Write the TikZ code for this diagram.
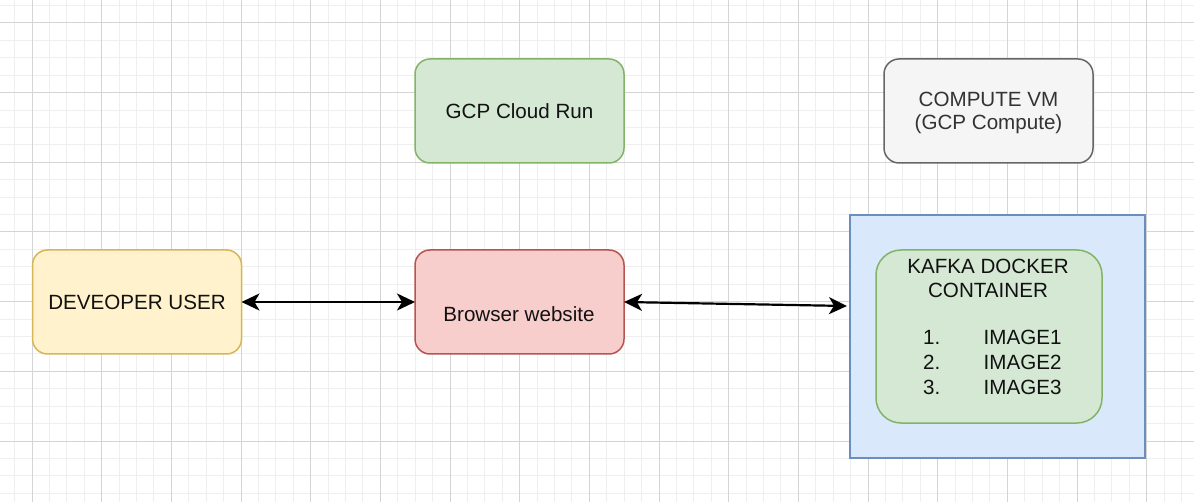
\documentclass[tikz,border=0pt]{standalone}
\usepackage{fontspec}
\setmainfont{Liberation Sans}
\usetikzlibrary{arrows.meta}
\definecolor{gridminor}{HTML}{EFEFEF}
\definecolor{gridmajor}{HTML}{D4D4D4}
\definecolor{yfill}{HTML}{FFF2CC}\definecolor{ydraw}{HTML}{D6B656}
\definecolor{gfill}{HTML}{D5E8D4}\definecolor{gdraw}{HTML}{82B366}
\definecolor{rfill}{HTML}{F8CECC}\definecolor{rdraw}{HTML}{B85450}
\definecolor{sfill}{HTML}{F5F5F5}\definecolor{sdraw}{HTML}{666666}
\definecolor{bfill}{HTML}{DAE8FC}\definecolor{bdraw}{HTML}{6C8EBF}
\definecolor{txt}{HTML}{111111}\definecolor{txtgray}{HTML}{333333}
\tikzset{
  box/.style={draw, line width=1.5pt, rounded corners=15pt, minimum width=209pt, minimum height=104pt, inner sep=0pt, outer sep=0pt},
  lbl/.style={font=\fontsize{20.6}{25}\selectfont, text=txt, inner sep=0pt, align=center},
  conn/.style={line width=2.2pt, {Stealth[length=18pt,width=17pt,inset=5pt]}-{Stealth[length=18pt,width=17pt,inset=5pt]}},
}
\begin{document}
\begin{tikzpicture}[x=1pt,y=-1pt]
\useasboundingbox (0,0) rectangle (1194,502);
\fill[white] (0,0) rectangle (1194,502);
% grid
\foreach \i in {-2,...,67}{
  \pgfmathsetmacro{\xx}{32+17.4167*\i}
  \draw[gridminor, line width=1pt] (\xx,0) -- (\xx,502);
}
\foreach \i in {-2,...,27}{
  \pgfmathsetmacro{\yy}{23+17.4167*\i}
  \draw[gridminor, line width=1pt] (0,\yy) -- (1194,\yy);
}
\foreach \i in {0,...,16}{
  \pgfmathsetmacro{\xx}{32+69.667*\i}
  \draw[gridmajor, line width=1pt] (\xx,0) -- (\xx,502);
}
\foreach \i in {0,...,7}{
  \pgfmathsetmacro{\yy}{23+69.667*\i}
  \draw[gridmajor, line width=1pt] (0,\yy) -- (1194,\yy);
}
% boxes
\node[box, fill=yfill, draw=ydraw] (dev) at (137,302) {};
\node[lbl] (devt) at (137,302) {DEVEOPER USER};
\node[box, fill=gfill, draw=gdraw] (run) at (519.5,111) {};
\node[lbl] (runt) at (519.5,111) {GCP Cloud Run};
\node[box, fill=rfill, draw=rdraw] (web) at (519.5,302) {};
\node[lbl] (webt) at (519,314) {Browser website};
\node[box, fill=sfill, draw=sdraw] (vm) at (988.5,111) {};
\node[lbl, text=txtgray] (vmt1) at (988.5,99) {COMPUTE VM};
\node[lbl, text=txtgray] (vmt2) at (988.5,124) {(GCP Compute)};
\node[draw=bdraw, fill=bfill, line width=1.5pt, minimum width=295pt, minimum height=243pt, inner sep=0pt, outer sep=0pt] (blue) at (997.5,336.5) {};
\node[draw=gdraw, fill=gfill, line width=1.5pt, rounded corners=25pt, minimum width=226pt, minimum height=173pt, inner sep=0pt, outer sep=0pt] (kafka) at (989,336.5) {};
\node[lbl] (k1) at (988,266) {KAFKA DOCKER};
\node[lbl] (k2) at (988,290.5) {CONTAINER};
\foreach \n/\y in {1/337.5,2/362.5,3/387}{
  \node[lbl, anchor=west] (num\n) at (923,\y) {\n.};
  \node[lbl, anchor=west] (img\n) at (983.5,\y) {IMAGE\n};
}
% connectors
\coordinate (bluein) at (847,306);
\draw[conn] (dev.east) -- (web.west);
\draw[conn] (web.east) -- (bluein);
\end{tikzpicture}
\end{document}
